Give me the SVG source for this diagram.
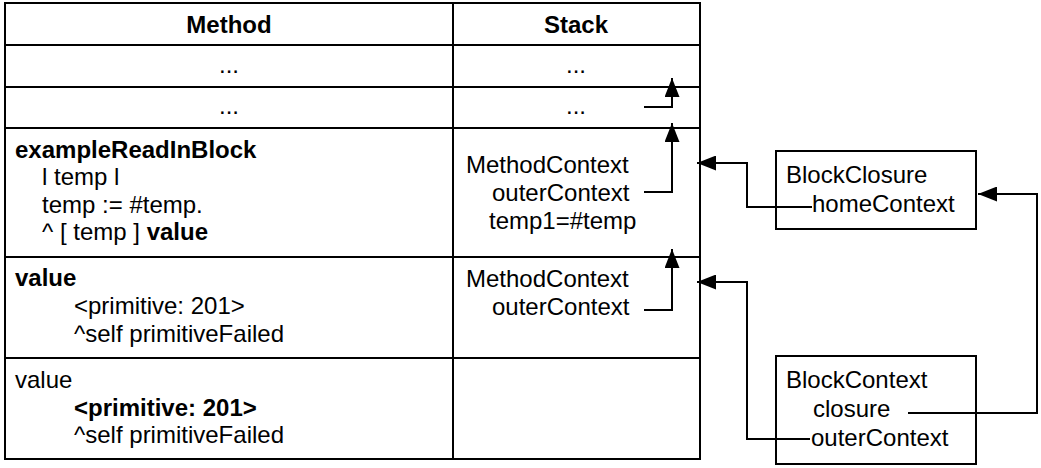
<svg xmlns="http://www.w3.org/2000/svg" width="1041" height="468" viewBox="0 0 1041 468">
<style>
text{font-family:"Liberation Sans",Arial,sans-serif;font-size:24px;fill:#000}
.b{font-weight:bold}
.m{text-anchor:middle}
.ln{fill:none;stroke:#000;stroke-width:2}
.cn{fill:none;stroke:#000;stroke-width:2;marker-end:url(#ah)}
</style>
<defs>
<marker id="ah" viewBox="0 0 19 15" markerWidth="19" markerHeight="15" refX="19" refY="7.5" orient="auto" markerUnits="userSpaceOnUse">
<path d="M0,0 L19,7.5 L0,15 z" fill="#000"/>
</marker>
</defs>
<rect width="1041" height="468" fill="#fff"/>
<g id="table">
<rect class="ln" x="5" y="3" width="695" height="456"/>
<path class="ln" d="M453,3 V459 M5,45 H700 M5,87 H700 M5,128 H700 M5,257 H700 M5,358 H700"/>
</g>
<g id="header">
<text class="b m" x="229" y="33">Method</text>
<text class="b m" x="576" y="33">Stack</text>
</g>
<g id="row1">
<text class="m" x="229" y="73">...</text>
<text class="m" x="576" y="73">...</text>
</g>
<g id="row2">
<text class="m" x="229" y="114">...</text>
<text class="m" x="576" y="114">...</text>
</g>
<g id="method-exampleReadInBlock">
<text class="b" x="15" y="158">exampleReadInBlock</text>
<text x="42" y="185">l temp l</text>
<text x="42" y="213">temp := #temp.</text>
<text x="42" y="240">^ [ temp ] <tspan class="b">value</tspan></text>
</g>
<g id="stack-context1">
<text x="466" y="173">MethodContext</text>
<text x="492" y="201">outerContext</text>
<text x="489" y="229">temp1=#temp</text>
</g>
<g id="method-value1">
<text class="b" x="15" y="286">value</text>
<text x="74" y="314">&lt;primitive: 201&gt;</text>
<text x="74" y="342">^self primitiveFailed</text>
</g>
<g id="stack-context2">
<text x="466" y="287">MethodContext</text>
<text x="492" y="315">outerContext</text>
</g>
<g id="method-value2">
<text x="15" y="388">value</text>
<text class="b" x="74" y="416">&lt;primitive: 201&gt;</text>
<text x="74" y="443">^self primitiveFailed</text>
</g>
<g id="blockClosure">
<rect class="ln" x="776" y="151" width="200" height="78"/>
<text x="786" y="183">BlockClosure</text>
<text x="812" y="212">homeContext</text>
</g>
<g id="blockContext">
<rect class="ln" x="776" y="356" width="200" height="108"/>
<text x="786" y="388">BlockContext</text>
<text x="813" y="417">closure</text>
<text x="811" y="446">outerContext</text>
</g>
<g id="connectors">
<path class="cn" d="M644,107 H672 V78"/>
<path class="cn" d="M644,192 H672 V123"/>
<path class="cn" d="M644,310 H672 V249"/>
<path class="cn" d="M812,207 H747 V163 H697"/>
<path class="cn" d="M810,439 H747 V282 H697"/>
<path class="cn" d="M908,413 H1037 V194 H978"/>
</g>
</svg>
